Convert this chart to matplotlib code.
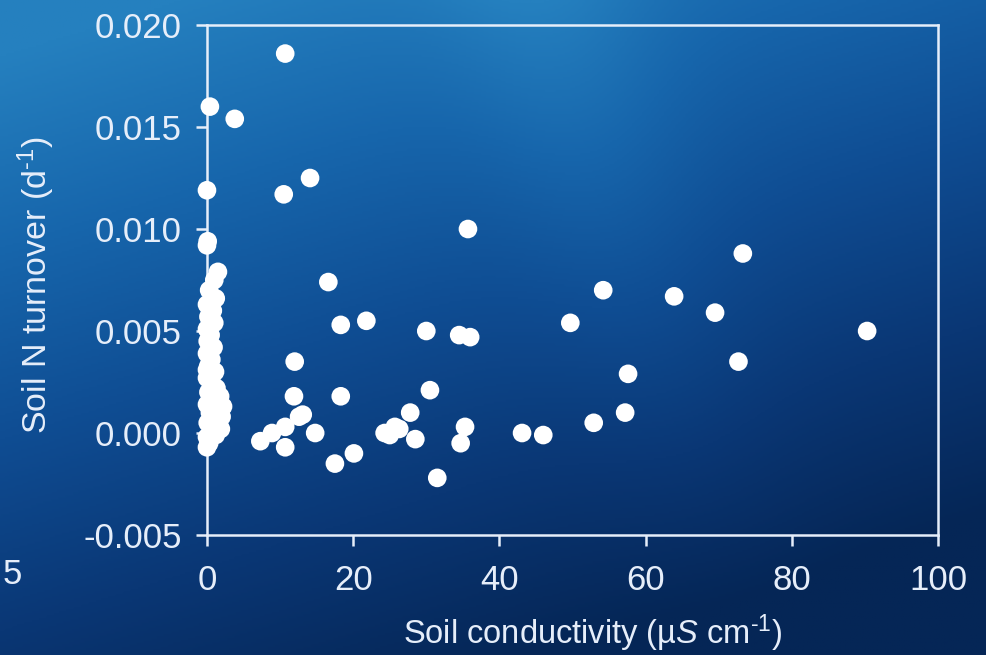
"""
Soil N turnover against soil conductivity, drawn as white dots on a
blue slide-style background.
"""

import numpy as np
import matplotlib
matplotlib.use("Agg")
import matplotlib.pyplot as plt
from matplotlib.colors import LinearSegmentedColormap

plt.rcParams["font.family"] = ["Liberation Sans", "DejaVu Sans"]
plt.rcParams["mathtext.fontset"] = "custom"
plt.rcParams["mathtext.rm"] = "Liberation Sans"
plt.rcParams["mathtext.it"] = "Liberation Sans:italic"

# Samples with measurable conductivity (uS/cm, turnover d^-1)
conductivity = [
    10.7, 3.8, 10.5, 14.1, 35.7, 73.3, 16.6, 54.2, 63.9, 69.5,
    49.7, 21.8, 18.3, 30.0, 90.3, 34.5, 36.0, 12.0, 72.7, 57.6,
    30.5, 11.9, 18.3, 13.1, 27.8, 10.7, 8.9, 7.3, 14.8, 10.7,
    24.3, 25.7, 25.0, 28.5, 35.3, 34.7, 17.5, 20.1, 31.5, 43.1,
    46.0, 52.9, 57.2, 12.6, 26.3,
]
turnover = [
    0.0186, 0.0154, 0.0117, 0.0125, 0.0100, 0.0088, 0.0074, 0.0070, 0.0067, 0.0059,
    0.0054, 0.0055, 0.0053, 0.0050, 0.0050, 0.0048, 0.0047, 0.0035, 0.0035, 0.0029,
    0.0021, 0.0018, 0.0018, 0.0009, 0.0010, 0.0003, 0.0000, -0.0004, 0.0000, -0.0007,
    0.0000, 0.0003, -0.0001, -0.0003, 0.0003, -0.0005, -0.0015, -0.0010, -0.0022, 0.0000,
    -0.0001, 0.0005, 0.0010, 0.0008, 0.0002,
]

# Samples with near-zero conductivity
low_conductivity = [
    0.4, 0.0, 0.0, 0.1, 1.5, 1.0, 0.3, 1.2, 0.0, 0.8,
    0.2, 1.0, 0.0, 0.5, 0.1, 0.9, 0.0, 0.6, 0.2, 1.1,
    0.0, 0.5, 1.3, 0.2, 1.8, 0.8, 0.0, 1.4, 0.4, 2.0,
    0.9, 0.1, 1.6, 0.6, 0.0, 1.2, 0.3, 0.0, 1.9, 2.2,
    0.7, 1.5, 0.0, 0.3,
]
low_turnover = [
    0.0160, 0.0119, 0.0092, 0.0094, 0.0079, 0.0075, 0.0070, 0.0066, 0.0063, 0.0060,
    0.0057, 0.0054, 0.0051, 0.0048, 0.0045, 0.0042, 0.0039, 0.0036, 0.0033, 0.0030,
    0.0027, 0.0025, 0.0022, 0.0020, 0.0018, 0.0016, 0.0014, 0.0012, 0.0010, 0.0008,
    0.0006, 0.0005, 0.0003, 0.0001, -0.0002, -0.0001, -0.0005, -0.0007, 0.0002, 0.0013,
    0.0028, 0.0004, 0.0031, 0.0046,
]

x_ticks = [0, 20, 40, 60, 80, 100]
y_ticks = [-0.005, 0.000, 0.005, 0.010, 0.015, 0.020]
y_tick_labels = ["-0.005", "0.000", "0.005", "0.010", "0.015", "0.020"]

fig = plt.figure(figsize=(9.87, 6.55), dpi=100)

# background gradient: lighter blue at top left, deep navy at the bottom
bg = fig.add_axes([0, 0, 1, 1], zorder=-10)
bg.set_axis_off()
cmap = LinearSegmentedColormap.from_list(
    "slide", ["#052656", "#0a3775", "#0f4d93", "#1766ac", "#2580bf"]
)
yy, xx = np.mgrid[0:1:300j, 0:1:400j]
shade = 0.85 * yy - 0.4 * xx + 0.22
# soft light streak running down from the top middle
shade += 0.15 * np.exp(-((xx - 0.55 - 0.2 * (1 - yy)) ** 2) / 0.012) * yy
bg.imshow(np.clip(shade, 0, 1), cmap=cmap, origin="lower", aspect="auto",
          extent=[0, 1, 0, 1])
bg.set_xlim(0, 1)
bg.set_ylim(0, 1)

ax = fig.add_axes([0.2097, 0.1832, 0.7407, 0.7786])
ax.patch.set_alpha(0)

dot = dict(s=180, color="white", edgecolors="none", clip_on=False, zorder=5)
ax.scatter(conductivity, turnover, **dot)
ax.scatter(low_conductivity, low_turnover, **dot)

ax.set_xlim(0, 100)
ax.set_ylim(-0.005, 0.020)
ax.set_xticks(x_ticks)
ax.set_yticks(y_ticks)
ax.set_yticklabels(y_tick_labels)

line_color = "#e6eefa"
for side in ax.spines.values():
    side.set_color(line_color)
    side.set_linewidth(1.8)
ax.tick_params(direction="out", length=8, width=1.8, color=line_color,
               labelcolor=line_color, labelsize=25)
ax.tick_params(axis="y", pad=10)
ax.tick_params(axis="x", pad=13)

ax.set_xlabel(r"Soil conductivity (µ$\mathit{S}$ cm$^{\text{-1}}$)",
              color=line_color, fontsize=23.5)
ax.xaxis.set_label_coords(0.527, -0.152)
ax.set_ylabel(r"Soil N turnover (d$^{\text{-1}}$)", color=line_color,
              fontsize=24.5)
ax.yaxis.set_label_coords(-0.205, 0.49)

# leftover label at the slide's left edge
fig.text(0.003, 0.108, "5", color=line_color, fontsize=25)

fig.savefig("out.png", dpi=100)
